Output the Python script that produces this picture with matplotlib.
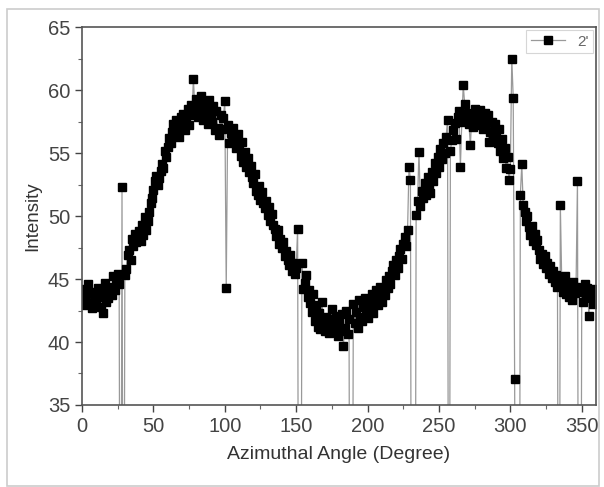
import numpy as np
import matplotlib.pyplot as plt
from matplotlib.patches import Rectangle

plt.rcParams['font.family'] = ['Liberation Sans', 'DejaVu Sans']

# intensity per degree, 0..359 (dropouts recorded as 0)
intensity = [
    43.5, 44.2, 42.9, 43.8, 44.6, 43.1, 43.9, 42.7, 44.0, 43.4,
    43.0, 44.3, 43.6, 42.8, 44.1, 42.3, 44.7, 43.2, 43.5, 44.0,
    44.4, 43.7, 45.2, 44.1, 44.8, 45.4, 44.6, 0.0, 52.3, 0.0,
    45.3, 45.8, 46.9, 47.3, 46.5, 48.2, 47.6, 48.6, 47.9, 48.4,
    48.8, 48.0, 49.3, 48.5, 49.9, 48.9, 49.6, 50.3, 51.0, 51.4,
    52.1, 52.8, 53.2, 52.5, 53.0, 53.6, 54.1, 53.8, 55.2, 54.7,
    55.5, 56.2, 55.8, 56.7, 57.3, 56.5, 57.6, 57.0, 56.3, 57.9,
    57.4, 58.1, 56.8, 57.7, 58.5, 57.2, 58.8, 58.0, 60.9, 58.6,
    59.3, 57.9, 58.9, 59.5, 58.2, 57.6, 59.0, 58.4, 57.3, 59.2,
    58.1, 57.5, 58.7, 56.8, 58.3, 57.0, 56.4, 58.0, 56.9, 57.8,
    59.1, 44.3, 57.2, 55.8, 56.6, 55.9, 57.0, 56.2, 55.4, 56.5,
    55.6, 54.8, 55.9, 54.3, 55.1, 53.9, 54.6, 53.5, 54.0, 53.1,
    52.6, 53.3, 52.0, 51.7, 52.4, 51.3, 51.9, 51.0, 50.6, 51.2,
    50.1, 50.7, 49.6, 50.2, 49.3, 49.0, 48.4, 48.9, 47.8, 48.2,
    47.5, 47.9, 46.8, 47.2, 46.5, 46.1, 46.9, 45.6, 46.3, 45.4,
    45.9, 49.0, 0.0, 0.0, 46.3, 44.2, 44.7, 45.3, 43.6, 44.1,
    43.1, 42.4, 43.8, 41.7, 42.9, 41.2, 42.3, 41.0, 43.2, 41.6,
    40.9, 42.0, 41.4, 40.7, 41.8, 42.6, 40.8, 41.3, 42.1, 40.5,
    41.6, 40.9, 42.2, 39.7, 41.1, 42.5, 40.6, 41.8, 0.0, 0.0,
    43.0, 41.5, 42.4, 41.1, 43.3, 42.0, 41.7, 42.8, 43.5, 42.2,
    41.9, 43.1, 42.6, 43.8, 42.3, 43.4, 44.1, 42.9, 43.6, 44.4,
    43.2, 44.0, 43.7, 44.9, 44.3, 45.2, 44.6, 45.6, 46.1, 45.3,
    46.5, 45.9, 46.8, 47.4, 46.6, 47.8, 48.3, 47.6, 48.9, 53.9,
    52.9, 0.0, 0.0, 0.0, 50.1, 51.2, 55.1, 50.8, 52.0, 51.4,
    52.6, 51.7, 53.1, 52.3, 51.8, 53.5, 52.8, 54.2, 53.4, 54.7,
    53.9, 55.3, 54.5, 55.8, 55.0, 56.3, 57.6, 0.0, 55.2, 56.0,
    56.8, 57.4, 56.1, 57.9, 58.3, 53.9, 57.5, 60.4, 58.9, 57.7,
    58.2, 57.3, 55.6, 58.0, 57.1, 58.5, 57.6, 58.1, 57.2, 58.4,
    57.8, 56.9, 58.2, 57.4, 58.0, 55.9, 56.7, 57.5, 56.2, 57.3,
    56.5, 55.8, 56.9, 55.2, 56.1, 54.6, 55.4, 53.8, 54.7, 52.9,
    53.7, 62.5, 59.4, 37.1, 0.0, 0.0, 0.0, 51.7, 54.1, 50.9,
    50.3, 49.6, 50.0, 49.1, 48.5, 49.2, 48.0, 48.6, 47.7, 48.1,
    47.3, 46.6, 47.0, 46.2, 46.8, 45.9, 46.3, 45.4, 46.0, 45.1,
    45.6, 44.8, 45.3, 44.4, 0.0, 50.9, 44.7, 44.0, 45.2, 43.8,
    44.5, 43.6, 44.2, 43.3, 44.8, 43.9, 44.4, 52.8, 0.0, 0.0,
    44.0, 43.2, 44.6, 43.7, 44.3, 42.1, 44.1, 43.5, 43.0, 44.2,
]
angle = np.arange(len(intensity))

fig = plt.figure(figsize=(6.04, 4.87), dpi=100)
fig.patches.append(Rectangle((0.012, 0.003), 0.98, 0.978, transform=fig.transFigure,
                             fill=False, edgecolor='#cccccc', linewidth=1.2))
ax = fig.add_axes([0.1358, 0.1684, 0.851, 0.776])

ax.plot(angle, intensity, color='#999999', linewidth=0.9,
        marker='s', markersize=5.6, markerfacecolor='black',
        markeredgecolor='black', label="2'")

ax.set_xlim(0, 360)
ax.set_ylim(35, 65)
ax.set_xticks(np.arange(0, 351, 50))
ax.set_xticks(np.arange(0, 361, 25), minor=True)
ax.set_yticks(np.arange(35, 66, 5))
ax.set_yticks(np.arange(35, 65.1, 2.5), minor=True)
ax.tick_params(which='major', direction='out', length=5, width=1,
               labelsize=14.5, colors='#444444')
ax.tick_params(which='minor', direction='out', length=3, width=0.8, colors='#666666')
for s in ax.spines.values():
    s.set_color('#555555')
    s.set_linewidth(1.2)

ax.set_xlabel('Azimuthal Angle (Degree)', fontsize=14, color='#333333', labelpad=7)
ax.set_ylabel('Intensity', fontsize=13.5, color='#333333', labelpad=5)

leg = ax.legend(loc='upper right', fontsize=11, frameon=True, fancybox=False,
                handlelength=2.2, borderpad=0.3, borderaxespad=0.2)
leg.get_frame().set_edgecolor('#cccccc')
leg.get_frame().set_linewidth(0.8)
for t in leg.get_texts():
    t.set_color('#666666')

fig.savefig('out.png', dpi=100)
